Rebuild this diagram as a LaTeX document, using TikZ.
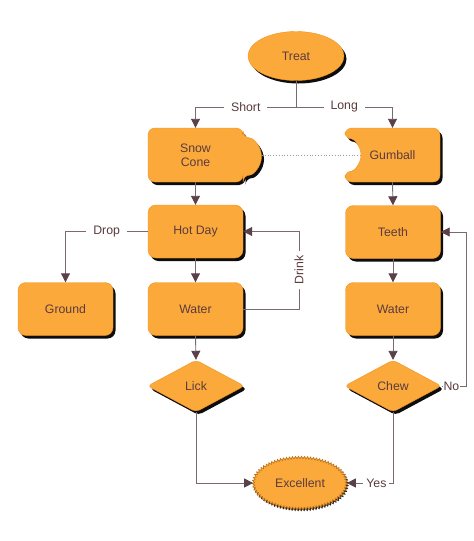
\documentclass[tikz,border=0pt]{standalone}
\usepackage{fontspec}
\setmainfont{Liberation Sans}
\usetikzlibrary{%
	arrows.meta,%
	shapes.geometric,%
	shadows,%
	decorations.pathmorphing
}
\definecolor{boxfill}{HTML}{FBA93B}
\definecolor{boxline}{HTML}{F0921E}
\definecolor{txtc}{HTML}{5B3B3D}
\definecolor{linec}{HTML}{7C6970}
\definecolor{tipc}{HTML}{5A4048}
\tikzset{
	every node/.style={font=\fontsize{12.3}{14}\selectfont, text=txtc},
	shade/.style={drop shadow={shadow xshift=2.5pt, shadow yshift=-3pt, fill=black, opacity=0.95}},
	box/.style={rectangle, rounded corners=8pt, draw=boxline, fill=boxfill, shade,
		minimum width=95pt, minimum height=53pt, inner sep=0pt, align=center},
	choice/.style={diamond, rounded corners=4pt, draw=boxline, fill=boxfill, shade,
		minimum width=97pt, minimum height=52pt, inner sep=0pt},
	lbl/.style={fill=white, inner xsep=7pt, inner ysep=2pt},
	conn/.style={draw=linec, line width=0.9pt}
}
\begin{document}
\begin{tikzpicture}[x=1pt, y=1pt, >={Triangle[width=9pt, length=9pt, color=tipc]}]
				\useasboundingbox (0,0) rectangle (474,-541);
				% top of the chart
				\node[ellipse, draw=boxline, fill=boxfill, shade, minimum width=96pt,
					minimum height=49pt, inner sep=0pt] (treat) at (296,-56) {Treat};
				\coordinate (split) at (296,-107);
				% the two odd shapes, drawn by hand
				\path[draw=boxline, fill=boxfill, shade, rounded corners=7pt]
					(148,-128) -- (243,-128) -- (243,-138) arc (90:-90:18.5)
					-- (243,-182) -- (148,-182) -- cycle;
				\path[draw=boxline, fill=boxfill, shade, rounded corners=7pt]
					(345,-128) -- (440,-128) -- (440,-182) -- (345,-182)
					-- (345,-171) arc (-90:90:16) -- cycle;
				\node[minimum width=95pt, minimum height=54pt, inner sep=0pt, align=center]
					(snow) at (195.5,-155) {Snow\\Cone};
				\node[minimum width=95pt, minimum height=54pt, inner sep=0pt]
					(gumball) at (392.5,-155) {Gumball};
				\coordinate (bump) at (262,-155);
				\coordinate (notch) at (361,-155);
				% the boxes
				\foreach \name/\where/\txt in {hot/{(195.5,-231.5)}/Hot Day,
					ground/{(65.5,-309)}/Ground, water1/{(195.5,-309)}/Water,
					teeth/{(393,-232)}/Teeth, water2/{(393,-309)}/Water}
				\node[box] (\name) at \where {\txt};
				\node[choice] (lick) at (196,-386) {Lick};
				\node[choice] (chew) at (393,-386) {Chew};
				\node[ellipse, draw=boxline!80!black, fill=boxfill, line width=0.7pt,
					drop shadow={shadow xshift=1.2pt, shadow yshift=-1.8pt, fill=black, opacity=0.85},
					decorate, decoration={zigzag, segment length=3pt, amplitude=1.2pt},
					minimum width=93pt, minimum height=51pt, inner sep=0pt]
					(excellent) at (300,-483) {Excellent};
				\coordinate (drinkc) at (299,-270);
				\coordinate (noc) at (466,-386);
				% connectors
				\draw[conn] (treat.south) -- (split);
				\draw[conn, ->] (split) -| (snow.north) node[lbl, pos=0.25] {Short};
				\draw[conn, ->] (split) -| (gumball.north) node[lbl, pos=0.25] {Long};
				\draw[draw=linec!70, line width=0.8pt, dotted] (bump) -- (notch);
				\draw[conn, ->] (snow.south) -- (hot.north);
				\draw[conn, ->] (gumball.south) -- (teeth.north);
				\draw[conn, ->] (hot.west) -| (ground.north) node[lbl, pos=0.25] {Drop};
				\draw[conn, ->] (hot.south) -- (water1.north);
				\draw[conn, ->] (water1.east) -| (drinkc) node[lbl, rotate=90, inner xsep=5pt] {Drink} |- (hot.east);
				\draw[conn, ->] (water1.south) -- (lick.north);
				\draw[conn, ->] (lick.south) |- (excellent.west);
				\draw[conn, ->] (teeth.south) -- (water2.north);
				\draw[conn, ->] (water2.south) -- (chew.north);
				\draw[conn, ->] (chew.south) |- (excellent.east) node[lbl, pos=0.68, inner xsep=3pt] {Yes};
				\draw[conn, ->] (chew.east) -- (noc) node[lbl, pos=0.4, inner sep=1pt] {No} |- (teeth.east);
			\end{tikzpicture}
\end{document}
